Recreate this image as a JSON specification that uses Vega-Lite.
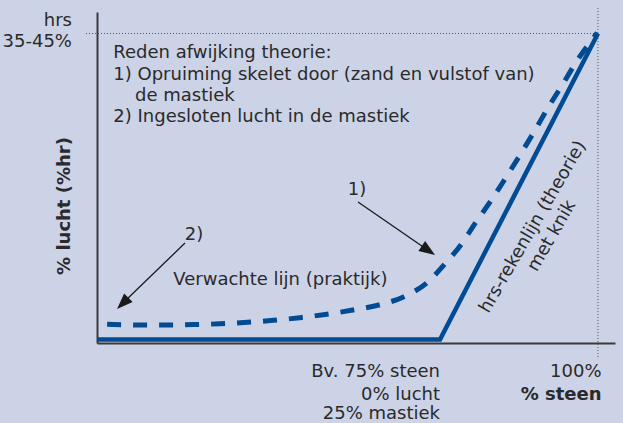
{
  "$schema": "https://vega.github.io/schema/vega-lite/v6.json",
  "autosize": "none",
  "width": 518,
  "height": 331,
  "padding": {"left": 97, "top": 12, "right": 8, "bottom": 80},
  "background": "#ccd3e7",
  "view": {"stroke": null},
  "config": {
    "text": {"font": "DejaVu Sans", "fontSize": 18, "color": "#2a2a2a"},
    "axis": {"domainColor": "#3a3a3a", "domainWidth": 2, "ticks": false, "labels": false, "grid": false, "title": null}
  },
  "datasets": {
    "solid": [{"x": 20.7, "y": 0}, {"x": 75, "y": 0}, {"x": 100, "y": 40}],
    "dashed": [
      {"i": 1, "x": 22.3, "y": 2.0}, {"i": 2, "x": 27.5, "y": 1.9}, {"i": 3, "x": 31.8, "y": 1.9},
      {"i": 4, "x": 35.9, "y": 1.95}, {"i": 5, "x": 40.2, "y": 2.05}, {"i": 6, "x": 44.5, "y": 2.25},
      {"i": 7, "x": 48.6, "y": 2.5}, {"i": 8, "x": 52.8, "y": 2.85}, {"i": 9, "x": 57.1, "y": 3.3},
      {"i": 10, "x": 61.2, "y": 3.85}, {"i": 11, "x": 65.5, "y": 4.55}, {"i": 12, "x": 69.3, "y": 5.6},
      {"i": 13, "x": 72.9, "y": 7.4}, {"i": 14, "x": 75.8, "y": 9.9}, {"i": 15, "x": 78.5, "y": 12.6},
      {"i": 16, "x": 80.5, "y": 15.1}, {"i": 17, "x": 83.2, "y": 18.3}, {"i": 18, "x": 85.3, "y": 21.0},
      {"i": 19, "x": 87.8, "y": 24.3}, {"i": 20, "x": 90.0, "y": 27.3}, {"i": 21, "x": 92.1, "y": 30.3},
      {"i": 22, "x": 94.3, "y": 33.2}, {"i": 23, "x": 96.5, "y": 36.2}, {"i": 24, "x": 99.9, "y": 40.1}
    ],
    "dotted": [
      {"x": 18.96, "y": 40, "x2": 100, "y2": 40},
      {"x": 100, "y": 43.33, "x2": 100, "y2": -2.42}
    ],
    "arrows": [
      {"x": 62.02, "y": 17.97, "x2": 73.16, "y2": 11.63, "angle": 34},
      {"x": 34.63, "y": 12.61, "x2": 24.77, "y2": 4.73, "angle": 135}
    ],
    "leftText": [
      {"x": 23.28, "y": 36.76, "t": "Reden afwijking theorie:"},
      {"x": 23.28, "y": 33.96, "t": "1) Opruiming skelet door (zand en vulstof van)"},
      {"x": 26.72, "y": 31.24, "t": "de mastiek"},
      {"x": 23.28, "y": 28.47, "t": "2) Ingesloten lucht in de mastiek"},
      {"x": 32.78, "y": 7.12, "t": "Verwachte lijn (praktijk)"}
    ],
    "rightText": [
      {"x": 16.74, "y": 40.98, "t": "hrs"},
      {"x": 16.74, "y": 38.27, "t": "35-45%"},
      {"x": 75.0, "y": -4.87, "t": "Bv. 75% steen"},
      {"x": 75.0, "y": -7.91, "t": "0% lucht"},
      {"x": 75.0, "y": -10.40, "t": "25% mastiek"},
      {"x": 100.57, "y": -4.87, "t": "100%"}
    ],
    "centerText": [
      {"x": 61.86, "y": 19.54, "t": "1)"},
      {"x": 36.06, "y": 13.66, "t": "2)"}
    ],
    "boldText": [
      {"x": 100.57, "y": -7.91, "t": "% steen"}
    ],
    "yTitle": [
      {"x": 15.63, "y": 17.45, "t": "% lucht (%hr)"}
    ],
    "slanted": [
      {"x": 89.72, "y": 14.70, "t": "hrs-rekenlijn (theorie)"},
      {"x": 92.73, "y": 13.53, "t": "met knik"}
    ]
  },
  "encoding": {
    "x": {"field": "x", "type": "quantitative", "scale": {"domain": [20.7, 102.7], "nice": false, "zero": false}, "axis": {"orient": "bottom"}},
    "y": {"field": "y", "type": "quantitative", "scale": {"domain": [-0.46, 42.81], "nice": false, "zero": false}, "axis": {"orient": "left"}}
  },
  "layer": [
    {
      "data": {"name": "dotted"},
      "mark": {"type": "rule", "color": "#555555", "strokeWidth": 1, "strokeDash": [1, 2]},
      "encoding": {"x2": {"field": "x2"}, "y2": {"field": "y2"}}
    },
    {
      "data": {"name": "solid"},
      "mark": {"type": "line", "color": "#004b93", "strokeWidth": 4.5, "strokeCap": "butt", "strokeJoin": "miter"},
      "encoding": {}
    },
    {
      "data": {"name": "dashed"},
      "mark": {"type": "line", "color": "#004b93", "strokeWidth": 5, "strokeDash": [14, 12], "interpolate": "monotone"},
      "encoding": {"order": {"field": "i", "type": "quantitative"}}
    },
    {
      "data": {"name": "arrows"},
      "mark": {"type": "rule", "color": "#1a1a1a", "strokeWidth": 1.3},
      "encoding": {"x2": {"field": "x2"}, "y2": {"field": "y2"}}
    },
    {
      "data": {"name": "arrows"},
      "mark": {"type": "point", "shape": "M-1,-0.75L1,0L-1,0.75Z", "filled": true, "color": "#1a1a1a", "size": 256, "opacity": 1},
      "encoding": {
        "x": {"field": "x2", "type": "quantitative"},
        "y": {"field": "y2", "type": "quantitative"},
        "angle": {"field": "angle", "type": "quantitative", "scale": null}
      }
    },
    {
      "data": {"name": "leftText"},
      "mark": {"type": "text", "align": "left", "baseline": "alphabetic"},
      "encoding": {"text": {"field": "t"}}
    },
    {
      "data": {"name": "rightText"},
      "mark": {"type": "text", "align": "right", "baseline": "alphabetic"},
      "encoding": {"text": {"field": "t"}}
    },
    {
      "data": {"name": "centerText"},
      "mark": {"type": "text", "align": "center", "baseline": "middle"},
      "encoding": {"text": {"field": "t"}}
    },
    {
      "data": {"name": "boldText"},
      "mark": {"type": "text", "align": "right", "baseline": "alphabetic", "fontWeight": "bold"},
      "encoding": {"text": {"field": "t"}}
    },
    {
      "data": {"name": "yTitle"},
      "mark": {"type": "text", "align": "center", "baseline": "middle", "fontWeight": "bold", "angle": 270},
      "encoding": {"text": {"field": "t"}}
    },
    {
      "data": {"name": "slanted"},
      "mark": {"type": "text", "align": "center", "baseline": "middle", "angle": 300},
      "encoding": {"text": {"field": "t"}}
    }
  ]
}
